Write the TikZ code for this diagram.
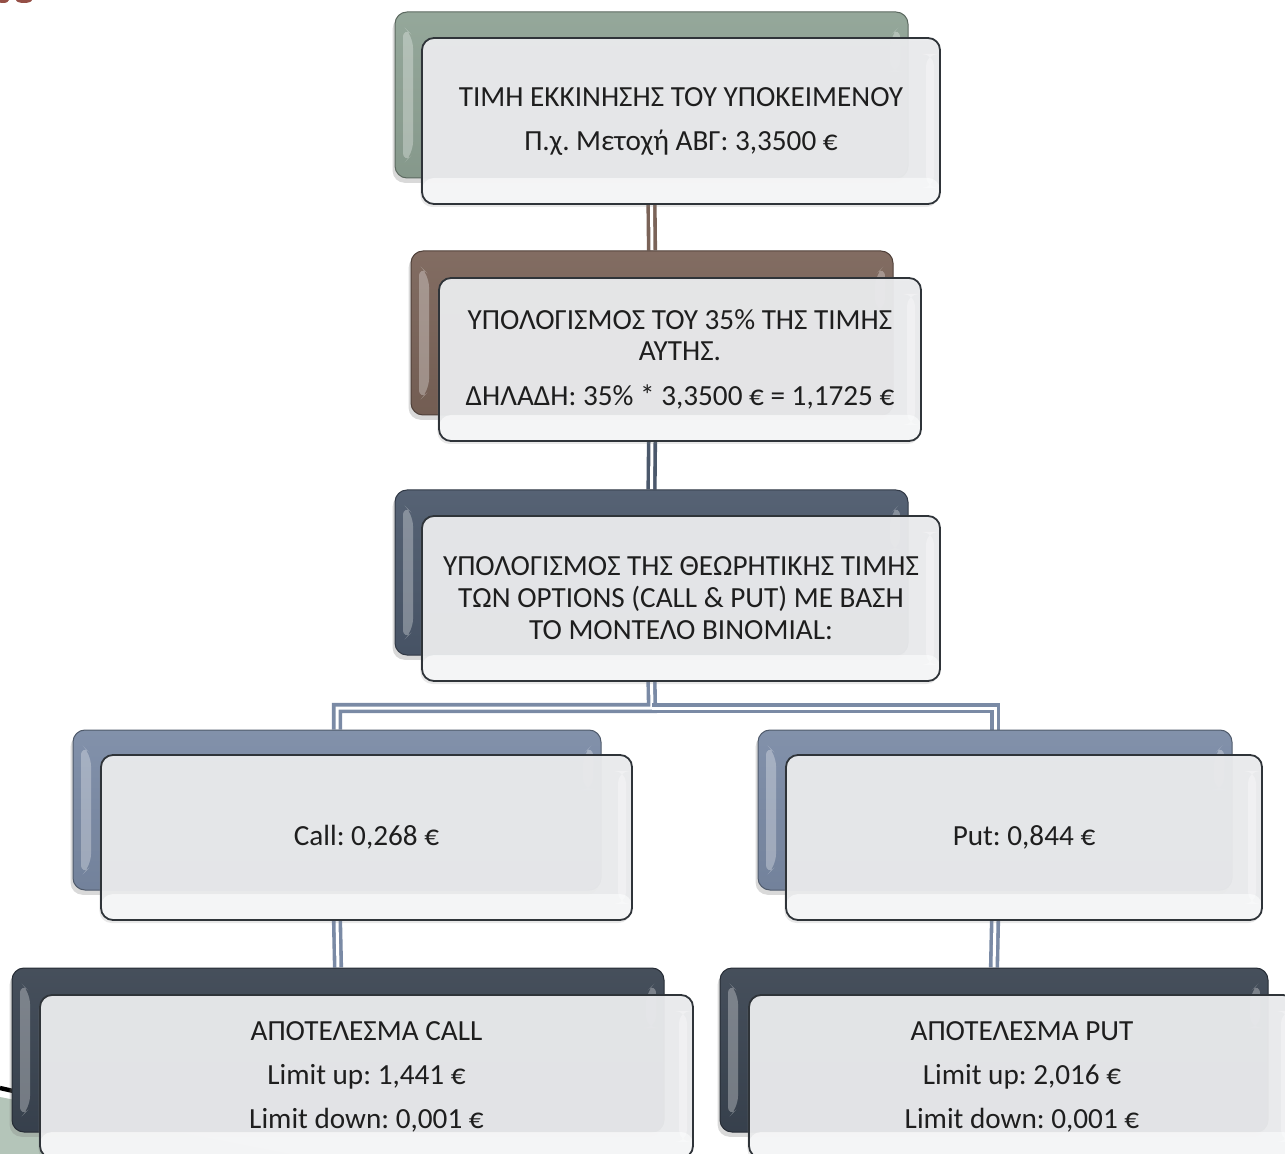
\documentclass[tikz,border=0pt]{standalone}
\usepackage{fontspec}
\setmainfont{Carlito}
\newfontfamily\fallbackfont{DejaVu Sans}
\usetikzlibrary{backgrounds,shadows}

% capital eta with tonos, taken from a fallback font if the main one lacks it
\newcommand\EtaTonos{\iffontchar\font"0389 Ή\else{\fallbackfont Ή}\fi}

\definecolor{sage}{HTML}{8EA294}
\definecolor{umber}{HTML}{7A6358}
\definecolor{slate}{HTML}{4B586B}
\definecolor{steel}{HTML}{7A8AA5}
\definecolor{ink}{HTML}{3A4451}
\definecolor{paper}{HTML}{E9EAEC}
\definecolor{rim}{HTML}{2F3439}
\definecolor{txt}{HTML}{1E1E1E}
\definecolor{moss}{HTML}{B4C5B9}

\tikzset{
  backbox/.style={rounded corners=6pt, inner sep=0pt,
    top color=#1!94!white, bottom color=#1!94!black, draw=#1!65!black, line width=.5pt,
    drop shadow={opacity=.3, shadow xshift=-1.2pt, shadow yshift=-2.4pt},
    path picture={
      \fill[white, opacity=.3]
        ([xshift=4pt,yshift=-7pt]path picture bounding box.north west) --
        ([xshift=9pt,yshift=-12pt]path picture bounding box.north west) --
        ([xshift=9pt,yshift=12pt]path picture bounding box.south west) --
        ([xshift=4pt,yshift=7pt]path picture bounding box.south west) -- cycle;
      \fill[white, opacity=.3]
        ([xshift=-4pt,yshift=-7pt]path picture bounding box.north east) --
        ([xshift=-9pt,yshift=-12pt]path picture bounding box.north east) --
        ([xshift=-9pt,yshift=-30pt]path picture bounding box.north east) --
        ([xshift=-4pt,yshift=-30pt]path picture bounding box.north east) -- cycle;
    }},
  frontbox/.style={rounded corners=6pt, inner sep=0pt, align=center,
    fill=paper, fill opacity=.96, text opacity=1, draw=rim, line width=.9pt,
    text=txt, font=\fontsize{14.6}{16}\selectfont,
    drop shadow={opacity=.18, shadow xshift=-.8pt, shadow yshift=-1.5pt},
    path picture={
      \fill[white, opacity=.55]
        ([yshift=13pt]path picture bounding box.south west) rectangle
        (path picture bounding box.south east);
      \fill[white, opacity=.35]
        ([xshift=-7pt,yshift=-8pt]path picture bounding box.north east) rectangle
        ([xshift=-3pt,yshift=8pt]path picture bounding box.south east);
    }},
  pipe/.style={draw=#1, line width=1.8pt, double=white, double distance=1.5pt},
}

\begin{document}
\frenchspacing
\begin{tikzpicture}[x=0.5pt, y=-0.5pt]
\useasboundingbox (0,0) rectangle (1285,1154);

% slide decoration peeking out at the corners
\fill[moss] (0,1097) -- (290,1154) -- (0,1154) -- cycle;
\draw[black, line width=2.2pt] (0,1088) -- (70,1104);
\fill[umber!80!red] (3,0) ellipse (6 and 3);
\fill[umber!80!red] (24,0) ellipse (8 and 3);

% tier 1
\node[backbox=sage, minimum width=256.5pt, minimum height=83pt] (b1back) at (651.5,95) {};
\node[frontbox, minimum width=259pt, minimum height=83pt] (b1) at (681,121)
  {ΤΙΜΗ ΕΚΚΙΝΗΣΗΣ ΤΟΥ ΥΠΟΚΕΙΜΕΝΟΥ\\[6pt] Π.χ. Μετοχή ΑΒΓ: 3,3500 €};

% tier 2
\node[backbox=umber, minimum width=241pt, minimum height=82pt] (b2back) at (652,333) {};
\node[frontbox, minimum width=241pt, minimum height=81.5pt] (b2) at (680,359.5)
  {ΥΠΟΛΟΓΙΣΜΟΣ ΤΟΥ 35\% ΤΗΣ ΤΙΜΗΣ\\[-.5pt] ΑΥΤ\EtaTonos Σ.\\[6.5pt] ΔΗΛΑΔΗ: 35\% * 3,3500 € = 1,1725 €};

% tier 3
\node[backbox=slate, minimum width=256.5pt, minimum height=82.5pt] (b3back) at (651.5,572.5) {};
\node[frontbox, minimum width=259pt, minimum height=82.5pt] (b3) at (681,598.5)
  {ΥΠΟΛΟΓΙΣΜΟΣ ΤΗΣ ΘΕΩΡΗΤΙΚΗΣ ΤΙΜΗΣ\\ ΤΩΝ OPTIONS (CALL \& PUT) ΜΕ ΒΑΣΗ\\ ΤΟ ΜΟΝΤΕΛΟ BINOMIAL:};

% tier 4
\node[backbox=steel, minimum width=264pt, minimum height=80pt] (b4back) at (337,810) {};
\node[frontbox, minimum width=265.5pt, minimum height=82.5pt] (b4) at (366.5,837.5) {Call: 0,268 €};
\node[backbox=steel, minimum width=237pt, minimum height=80pt] (b5back) at (995,810) {};
\node[frontbox, minimum width=238pt, minimum height=82.5pt] (b5) at (1024,837.5) {Put: 0,844 €};

% tier 5
\node[backbox=ink, minimum width=326pt, minimum height=82pt] (b6back) at (338,1050) {};
\node[frontbox, minimum width=326.5pt, minimum height=81.5pt] (b6) at (366.5,1076.5)
  {ΑΠΟΤΕΛΕΣΜΑ CALL\\[6pt] Limit up: 1,441 €\\[6pt] Limit down: 0,001 €};
\node[backbox=ink, minimum width=274pt, minimum height=82pt] (b7back) at (994,1050) {};
\node[frontbox, minimum width=273pt, minimum height=81.5pt] (b7) at (1022,1076.5)
  {ΑΠΟΤΕΛΕΣΜΑ PUT\\[6pt] Limit up: 2,016 €\\[6pt] Limit down: 0,001 €};

% connectors behind the boxes
\coordinate (split) at (652,708);
\begin{pgfonlayer}{background}
  \draw[pipe=umber] (b1back.center |- b1.south) -- (b2back.north);
  \draw[pipe=slate] (b2back.center |- b2.south) -- (b3back.north);
  \draw[pipe=steel] (b3back.center |- b3.south) -- (split) -| (b4back.north);
  \draw[pipe=steel] (split) -| (b5back.north);
  \draw[pipe=steel] (b4back.center |- b4.south) -- (b6back.north);
  \draw[pipe=steel] (b5back.center |- b5.south) -- (b7back.north);
\end{pgfonlayer}
\end{tikzpicture}
\end{document}
